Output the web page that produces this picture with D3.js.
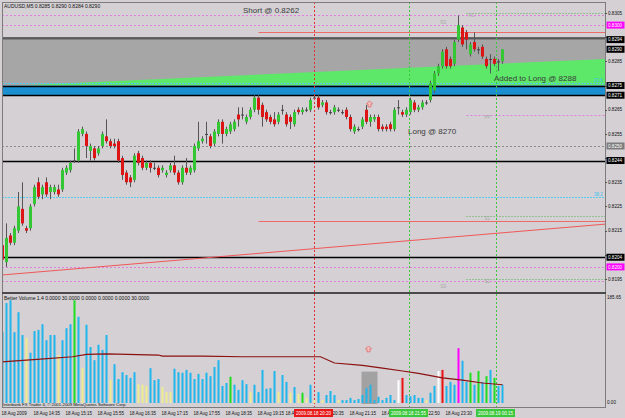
<!DOCTYPE html>
<html>
<head>
<meta charset="utf-8">
<script src="https://cdn.jsdelivr.net/npm/d3@7"></script>
<style>
body { margin: 0; background: #d4d0d4; }
svg { display: block; }
text { font-family: Arial, "Liberation Sans", sans-serif; }
</style>
</head>
<body>
<script>
// AUDUSD M5, 18-19 Aug 2009, one value per bar
var open = [
0.8209,0.8202,0.8213,0.8210,0.8215,0.8224,0.8216,0.8216,0.8226,0.8235,
0.8230,0.8235,0.8231,0.8231,0.8232,0.8232,0.8239,0.8240,0.8244,0.8244,
0.8255,0.8255,0.8248,0.8249,0.8247,0.8250,0.8254,0.8252,0.8251,0.8252,
0.8245,0.8239,0.8237,0.8236,0.8247,0.8245,0.8241,0.8243,0.8241,0.8241,
0.8240,0.8238,0.8240,0.8242,0.8239,0.8235,0.8241,0.8239,0.8240,0.8249,
0.8252,0.8255,0.8254,0.8251,0.8255,0.8260,0.8255,0.8256,0.8257,0.8263,
0.8263,0.8260,0.8262,0.8265,0.8270,0.8267,0.8264,0.8262,0.8261,0.8260,
0.8265,0.8263,0.8262,0.8259,0.8265,0.8264,0.8265,0.8265,0.8270,0.8270,
0.8267,0.8268,0.8264,0.8264,0.8265,0.8264,0.8265,0.8262,0.8256,0.8257,
0.8258,0.8265,0.8260,0.8261,0.8262,0.8258,0.8258,0.8259,0.8257,0.8266,
0.8264,0.8263,0.8264,0.8268,0.8265,0.8266,0.8268,0.8269,0.8273,0.8280,
0.8283,0.8290,0.8286,0.8284,0.8294,0.8299,0.8297,0.8288,0.8293,0.8290,
0.8291,0.8286,0.8286,0.8286,0.8285,0.8285];
var high = [
0.8210,0.8218,0.8214,0.8217,0.8231,0.8235,0.8217,0.8226,0.8234,0.8237,
0.8234,0.8237,0.8234,0.8234,0.8234,0.8241,0.8242,0.8244,0.8249,0.8257,
0.8258,0.8256,0.8251,0.8250,0.8250,0.8256,0.8261,0.8253,0.8253,0.8253,
0.8246,0.8240,0.8238,0.8247,0.8248,0.8246,0.8244,0.8244,0.8243,0.8242,
0.8242,0.8240,0.8243,0.8246,0.8240,0.8242,0.8245,0.8242,0.8251,0.8260,
0.8254,0.8260,0.8255,0.8257,0.8261,0.8261,0.8258,0.8260,0.8261,0.8266,
0.8266,0.8263,0.8266,0.8271,0.8271,0.8268,0.8265,0.8263,0.8264,0.8264,
0.8267,0.8264,0.8263,0.8265,0.8266,0.8266,0.8266,0.8270,0.8271,0.8271,
0.8269,0.8269,0.8265,0.8267,0.8266,0.8265,0.8266,0.8263,0.8259,0.8258,
0.8262,0.8267,0.8263,0.8263,0.8263,0.8259,0.8259,0.8260,0.8266,0.8269,
0.8265,0.8266,0.8270,0.8269,0.8267,0.8269,0.8269,0.8277,0.8281,0.8284,
0.8290,0.8291,0.8287,0.8294,0.8304,0.8300,0.8298,0.8293,0.8297,0.8291,
0.8292,0.8287,0.8288,0.8287,0.8286,0.8290];
var low = [
0.8201,0.8200,0.8209,0.8209,0.8214,0.8217,0.8214,0.8215,0.8225,0.8228,
0.8228,0.8229,0.8228,0.8230,0.8229,0.8231,0.8238,0.8239,0.8243,0.8243,
0.8254,0.8245,0.8244,0.8244,0.8246,0.8249,0.8251,0.8249,0.8249,0.8243,
0.8236,0.8234,0.8233,0.8235,0.8242,0.8240,0.8240,0.8239,0.8240,0.8237,
0.8239,0.8237,0.8239,0.8238,0.8234,0.8234,0.8238,0.8238,0.8239,0.8248,
0.8251,0.8251,0.8249,0.8250,0.8254,0.8251,0.8254,0.8255,0.8256,0.8258,
0.8261,0.8259,0.8261,0.8264,0.8263,0.8258,0.8260,0.8259,0.8258,0.8259,
0.8263,0.8258,0.8257,0.8258,0.8263,0.8263,0.8264,0.8264,0.8269,0.8265,
0.8266,0.8263,0.8263,0.8263,0.8264,0.8263,0.8261,0.8256,0.8255,0.8256,
0.8257,0.8259,0.8258,0.8260,0.8256,0.8256,0.8256,0.8256,0.8256,0.8263,
0.8262,0.8262,0.8263,0.8264,0.8264,0.8265,0.8267,0.8268,0.8272,0.8279,
0.8282,0.8282,0.8282,0.8283,0.8293,0.8291,0.8290,0.8287,0.8289,0.8288,
0.8286,0.8282,0.8280,0.8283,0.8281,0.8284];
var close = [
0.8203,0.8212,0.8210,0.8216,0.8225,0.8218,0.8215,0.8225,0.8233,0.8229,
0.8233,0.8230,0.8233,0.8233,0.8230,0.8240,0.8241,0.8243,0.8244,0.8256,
0.8257,0.8250,0.8250,0.8245,0.8249,0.8255,0.8252,0.8250,0.8250,0.8244,
0.8238,0.8235,0.8235,0.8246,0.8243,0.8241,0.8243,0.8241,0.8241,0.8238,
0.8241,0.8239,0.8242,0.8239,0.8235,0.8241,0.8239,0.8241,0.8250,0.8252,
0.8253,0.8255,0.8250,0.8256,0.8260,0.8255,0.8257,0.8259,0.8260,0.8261,
0.8263,0.8262,0.8265,0.8270,0.8265,0.8262,0.8261,0.8260,0.8259,0.8263,
0.8265,0.8259,0.8260,0.8264,0.8264,0.8265,0.8265,0.8269,0.8270,0.8266,
0.8268,0.8264,0.8264,0.8266,0.8265,0.8264,0.8262,0.8257,0.8258,0.8257,
0.8261,0.8260,0.8262,0.8262,0.8257,0.8257,0.8257,0.8257,0.8265,0.8266,
0.8263,0.8265,0.8269,0.8265,0.8266,0.8268,0.8268,0.8276,0.8280,0.8283,
0.8289,0.8283,0.8283,0.8293,0.8300,0.8292,0.8294,0.8292,0.8290,0.8290,
0.8287,0.8283,0.8286,0.8284,0.8285,0.8290];

// Better Volume: tick volume and its colour code per bar
var volume = [
124,175,180,124,159,119,114,88,126,128,
138,110,119,119,84,110,131,138,180,151,
61,137,98,75,102,93,119,40,68,42,
54,49,44,54,33,32,30,61,40,42,
28,19,19,60,54,53,58,53,42,51,
42,53,47,63,75,30,35,46,32,23,
40,33,19,32,19,58,25,26,56,19,
49,37,18,28,16,18,9,32,5,19,
5,14,21,14,5,5,5,9,5,7,
14,26,32,5,11,5,9,14,5,40,
44,14,12,14,9,9,5,18,30,56,
58,30,37,32,96,74,37,53,32,56,
37,47,58,44,30,32];
// b blue, y yellow, g green, r red, w white, m magenta
var volColor = [
"bbbbbbybbb", "bbbbybbbgb", "ybbbbbbybb", "bbbbyyybbb", "yyybbbbbbb",
"bbbbbbbgbb", "bbybbbbbby", "bbybygybyb", "ybbbybbbbb", "bbbbbbbbbw",
"rbbbbbybbw", "rbbbmbbgbg", "bgbgbb"].join("").split("");
var volMaxLabel = 185.65;
// moving average of the volume, read at a few bars
var maIndex = [-0.5, 9.5, 17.5, 21, 26, 39, 40, 50, 60, 72, 79.5, 83, 90, 95, 100, 104, 110, 115, 120, 125];
var maValue = [72, 77, 81, 85, 86, 84, 82, 82, 81, 81, 81, 70, 66, 61, 56, 52, 44, 40, 35, 32];

// price axis
var priceTicks = [0.8305, 0.8295, 0.8285, 0.8275, 0.8265, 0.8255, 0.8245, 0.8235, 0.8225, 0.8215, 0.8205, 0.8195];
var priceMarks = [0.8300, 0.8294, 0.8290, 0.8275, 0.8271, 0.8250, 0.8244, 0.8204, 0.8200];
var priceMarkBg = ["#ff00ff", "#000", "#000", "#000", "#000", "#7c7c7c", "#000", "#000", "#ff00ff"];

// time axis (only the visible part of the labels hidden by the line boxes)
var timeIndex = [0, 8, 16, 24, 32, 40, 48, 56, 64, 71, 82.75, 87, 95, 106.75, 111];
var timeText = ["18 Aug 2009", "18 Aug 14:35", "18 Aug 15:15", "18 Aug 15:55", "18 Aug 16:35",
  "18 Aug 17:15", "18 Aug 17:55", "18 Aug 18:35", "18 Aug 19:15", "18 A",
  "20:35", "18 Aug 21:15", "18 A", "22:50", "18 Aug 23:30"];

// chart objects
var vlineIndex = [77.75, 101.5, 123.25];
var vlineColor = ["#e03030", "#3cc83c", "#3cc83c"];
var vlineText = ["2009.08.18 20:20", "2009.08.18 21:55", "2009.08.19 00:15"];

var W = 625, H = 418;
var plotLeft = 2, plotRight = 605, plotTop = 2, mainBottom = 292, volTop = 294, volBottom = 407;

var svg = d3.select("body").append("svg").attr("width", W).attr("height", H);
svg.append("rect").attr("width", W).attr("height", H).attr("fill", "#d4d0d4");

var x = d3.scaleLinear().domain([0, 125]).range([2.5, 502.5]);
var y = d3.scaleLinear().domain([0.8305, 0.8195]).range([13, 279]);
var yv = d3.scaleLinear().domain([0, volMaxLabel]).range([403, 297]);

var defs = svg.append("defs");
defs.append("clipPath").attr("id", "cm").append("rect")
  .attr("x", plotLeft).attr("y", plotTop).attr("width", plotRight - plotLeft).attr("height", mainBottom - plotTop);
defs.append("clipPath").attr("id", "cv").append("rect")
  .attr("x", plotLeft).attr("y", volTop).attr("width", plotRight - plotLeft).attr("height", volBottom - volTop);

var main = svg.append("g").attr("clip-path", "url(#cm)");

// gray zone 0.8294 - 0.8275
main.append("rect").attr("x", plotLeft).attr("width", plotRight - plotLeft)
  .attr("y", y(0.8294)).attr("height", y(0.8275) - y(0.8294)).attr("fill", "#a6a6a6");
main.append("rect").attr("x", plotLeft).attr("width", plotRight - plotLeft)
  .attr("y", y(0.8294) - 2.5).attr("height", 2.5).attr("fill", "#5a5a5a");

// green wedge
var wedge = [[3.5, 0.8275], [150.75, 0.8286], [150.75, 0.8275]];
main.append("path")
  .attr("d", d3.line().x(function(d) { return x(d[0]); }).y(function(d) { return y(d[1]); })(wedge) + "Z")
  .attr("fill", "#5ee86a");

// blue zone 0.8275 - 0.8271
main.append("rect").attr("x", plotLeft).attr("width", plotRight - plotLeft)
  .attr("y", y(0.8275)).attr("height", y(0.8271) - y(0.8275)).attr("fill", "#1c8fd0");

// horizontal lines
function hline(p, color, dash, w, x0) {
  main.append("line")
    .attr("x1", x0 == null ? plotLeft : x(x0)).attr("x2", plotRight)
    .attr("y1", Math.round(y(p)) + 0.5).attr("y2", Math.round(y(p)) + 0.5)
    .attr("stroke", color).attr("stroke-width", w || 1)
    .attr("stroke-dasharray", dash || null);
}
hline(0.8304, "#e07ee0", "2,2");
hline(0.8300, "#e07ee0", "2,2");
hline(0.8297, "#f06a6a", null, 1, 64);
hline(0.8276, "#55ccf0", "2,1");
hline(0.8275, "#000", null, 1.3);
hline(0.8271, "#000", null, 1.3);
hline(0.8250, "#8c8c8c", "2,2");
hline(0.8244, "#000", null, 1.3);
hline(0.8229, "#55ccf0", "2,1");
hline(0.8219, "#f06a6a", null, 1, 64);
hline(0.8204, "#000", null, 1.3);
hline(0.8200, "#e07ee0", "2,2");
hline(0.8194, "#e07ee0", "2,2");
// pivot levels on the right
hline(0.8305, "#52b052", "1,2", 1, 116);
hline(0.8263, "#e07ee0", "2,2", 1, 116);
hline(0.8221, "#52b052", "1,2", 1, 116);
hline(0.8195, "#52b052", "1,2", 1, 116);

// red trend line
var trend = [[-0.5, 0.81966], [150.75, 0.82177]];
main.append("line")
  .attr("x1", x(trend[0][0])).attr("y1", y(trend[0][1]))
  .attr("x2", x(trend[1][0])).attr("y2", y(trend[1][1]))
  .attr("stroke", "#f05858").attr("stroke-width", 1);

// vertical lines through both panels
vlineIndex.forEach(function(v, k) {
  svg.append("line")
    .attr("x1", Math.round(x(v)) + 0.5).attr("x2", Math.round(x(v)) + 0.5)
    .attr("y1", plotTop).attr("y2", volBottom)
    .attr("stroke", vlineColor[k]).attr("stroke-dasharray", "2,2");
});

// candles
var bars = d3.range(open.length).map(function(i) {
  return { i: i, o: open[i], h: high[i], l: low[i], c: close[i] };
});
main.selectAll(".wick").data(bars).join("line")
  .attr("x1", function(d) { return x(d.i); }).attr("x2", function(d) { return x(d.i); })
  .attr("y1", function(d) { return y(d.h); }).attr("y2", function(d) { return y(d.l); })
  .attr("stroke", "#555").attr("stroke-width", 1);
main.selectAll(".body").data(bars).join("rect")
  .attr("x", function(d) { return x(d.i) - 1.5; })
  .attr("width", 3)
  .attr("y", function(d) { return y(Math.max(d.o, d.c)); })
  .attr("height", function(d) { return Math.max(1, Math.abs(y(d.o) - y(d.c))); })
  .attr("fill", function(d) { return d.c > d.o ? "#33c833" : (d.c < d.o ? "#dd1414" : "#444"); });

// pink up arrow marker
function upArrow(g, cx, cy, color) {
  g.append("path")
    .attr("d", "M" + cx + "," + (cy - 4) + " l3,3 h-1.5 v3 h-3 v-3 h-1.5 z")
    .attr("fill", "#f4c0c0").attr("stroke", color).attr("stroke-width", 0.8);
}
upArrow(main, x(91.75), y(0.8267), "#e06a6a");

// texts on the main chart
main.append("text").attr("x", 4).attr("y", 8).attr("font-size", 5).attr("fill", "#111")
  .text("AUDUSD,M5  0.8285 0.8290 0.8284 0.8290");
var big = [["Short @ 0.8262", 243, 13], ["Long @ 8270", 408, 134], ["Added to Long @ 8288", 494, 81]];
big.forEach(function(b) {
  main.append("text").attr("x", b[1]).attr("y", b[2]).attr("font-size", 8).attr("fill", "#3a3a3a").text(b[0]);
});
var faint = [["R1", 116.5, 0.8305], ["R2", 109.5, 0.8302], ["PP", 120.5, 0.8263], ["S1", 120.5, 0.8221], ["S2", 120.5, 0.8195], ["S3", 109.5, 0.8193]];
faint.forEach(function(f) {
  main.append("text").attr("x", x(f[1])).attr("y", y(f[2]) + 4).attr("font-size", 4.5)
    .attr("fill", "#a8a8a8").text(f[0]);
});
main.append("text").attr("x", 594).attr("y", y(0.8276) - 1).attr("font-size", 4.5).attr("fill", "#35c0f0").text("23.6");
main.append("text").attr("x", 594).attr("y", y(0.8229) - 1).attr("font-size", 4.5).attr("fill", "#35c0f0").text("38.2");

// volume panel
var vol = svg.append("g").attr("clip-path", "url(#cv)");
vol.append("rect").attr("x", x(89.75)).attr("width", x(93.75) - x(89.75))
  .attr("y", yv(55)).attr("height", yv(0) - yv(55) + 1).attr("fill", "#a2a2a2");
var vcol = { b: "#1fb6ee", y: "#eeee90", g: "#1ede1e", r: "#ee1010", w: "#ffffff", m: "#ff00ff" };
vol.selectAll(".vbar").data(volume).join("rect")
  .attr("x", function(d, i) { return x(i) - 1; })
  .attr("width", 2)
  .attr("y", function(d) { return yv(d); })
  .attr("height", function(d) { return yv(0) - yv(d); })
  .attr("fill", function(d, i) { return vcol[volColor[i]]; });
vol.append("path")
  .datum(maIndex.map(function(v, k) { return [v, maValue[k]]; }))
  .attr("d", d3.line().x(function(d) { return x(d[0]); }).y(function(d) { return yv(d[1]); }))
  .attr("fill", "none").attr("stroke", "#8c1010").attr("stroke-width", 1.2);
upArrow(vol, x(91.5), yv(93), "#e06a6a");
vol.append("text").attr("x", 4).attr("y", 300).attr("font-size", 5).attr("fill", "#111")
  .text("Better Volume 1.4 0.0000 30.0000 0.0000 0.0000 0.0000 30.0000");
vol.append("text").attr("x", 3).attr("y", 405.5).attr("font-size", 4.3).attr("fill", "#111")
  .text("Interbank FX Trader 4, \u00a9 2001-2009 MetaQuotes Software Corp.");

// frames
svg.append("rect").attr("x", plotLeft + 0.5).attr("y", plotTop + 0.5)
  .attr("width", plotRight - plotLeft).attr("height", volBottom - plotTop)
  .attr("fill", "none").attr("stroke", "#7c7c7c");
svg.append("rect").attr("x", plotLeft).attr("y", mainBottom).attr("width", plotRight - plotLeft + 1).attr("height", 2)
  .attr("fill", "#4a4a4a");

// right price axis; plain ticks hidden where a marked level sits
var ax = svg.append("g");
var freeTicks = priceTicks.filter(function(t) {
  return priceMarks.every(function(m) { return Math.abs(y(m) - y(t)) > 6; });
});
ax.selectAll(".pt").data(freeTicks).join("text")
  .attr("x", 608).attr("y", function(d) { return y(d) + 1.7; })
  .attr("font-size", 4.6).attr("fill", "#111")
  .text(d3.format(".4f"));
ax.selectAll(".pk").data(priceTicks).join("line")
  .attr("x1", 605).attr("x2", 607)
  .attr("y1", function(d) { return Math.round(y(d)) + 0.5; })
  .attr("y2", function(d) { return Math.round(y(d)) + 0.5; })
  .attr("stroke", "#555");
priceMarks.forEach(function(p, k) {
  ax.append("rect").attr("x", 606.5).attr("y", y(p) - 3.5).attr("width", 18).attr("height", 7)
    .attr("fill", priceMarkBg[k]);
  ax.append("text").attr("x", 608).attr("y", y(p) + 1.7).attr("font-size", 4.6)
    .attr("fill", "#fff").text(d3.format(".4f")(p));
});
ax.append("text").attr("x", 607).attr("y", 298.5).attr("font-size", 4.6).attr("fill", "#111")
  .text(d3.format(".2f")(volMaxLabel));
ax.append("text").attr("x", 607).attr("y", 403.5).attr("font-size", 4.6).attr("fill", "#111").text("0.00");

// time axis
var tx = svg.append("g");
timeIndex.forEach(function(v, k) {
  tx.append("text").attr("x", x(v) - 1).attr("y", 414.5).attr("font-size", 4.5)
    .attr("fill", "#111").text(timeText[k]);
});
vlineIndex.forEach(function(v, k) {
  var bw = 39;
  tx.append("rect").attr("x", x(v) - bw / 2).attr("y", 409).attr("width", bw).attr("height", 8)
    .attr("fill", k === 0 ? "#e81818" : "#3cc83c");
  tx.append("text").attr("x", x(v)).attr("y", 414.8).attr("text-anchor", "middle")
    .attr("font-size", 4.5).attr("fill", "#fff").text(vlineText[k]);
});
</script>
</body>
</html>
